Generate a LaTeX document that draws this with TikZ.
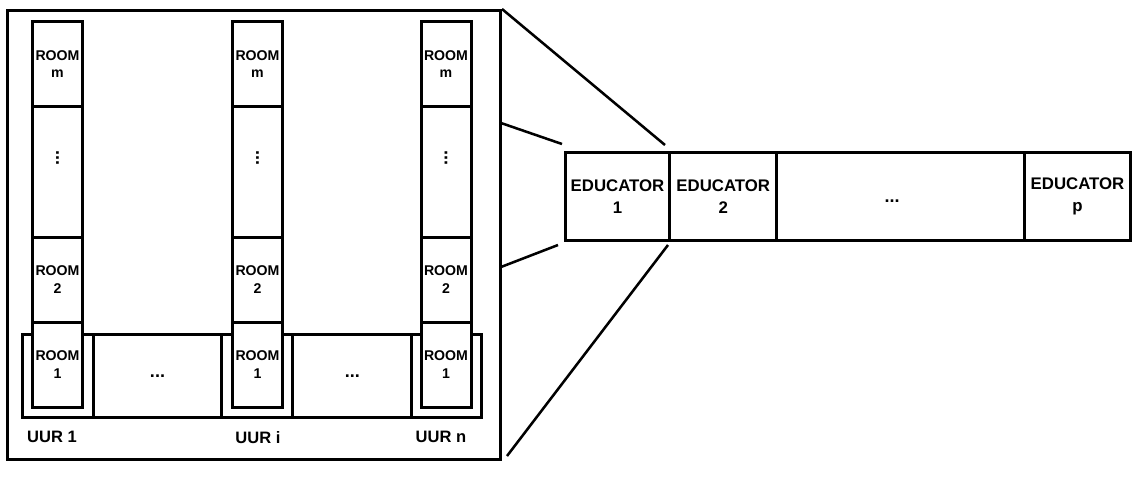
\documentclass[tikz,border=0pt]{standalone}
\usepackage{fontspec}
\setmainfont{Liberation Sans}
\begin{document}
\begin{tikzpicture}[x=0.75pt,y=-0.75pt,line width=2.25pt,
        box/.style={draw,fill=white,inner sep=0pt,align=center},
        roombox/.style={box,minimum width=37.5pt,font=\bfseries\fontsize{10.6}{13}\selectfont},
        edubox/.style={box,minimum height=66pt,font=\bfseries\fontsize{12.6}{16.5}\selectfont},
        uurbox/.style={box,minimum height=62.25pt},
        dots/.style={inner sep=0pt,font=\bfseries\fontsize{13.5}{14}\selectfont},
        uurlabel/.style={inner sep=0pt,font=\bfseries\fontsize{12.4}{14}\selectfont},
        link/.style={line width=1.9pt}]
            \useasboundingbox (0,0) rectangle (1140,476);
            \node[draw,inner sep=0pt,minimum width=369.4pt,minimum height=337.1pt] (frame) at (254.25,235.25) {};
            \node[uurbox,minimum width=53.25pt] (u1) at (58,376) {};
            \node[uurbox,minimum width=96pt] (g1) at (157.5,376) {};
            \node[uurbox,minimum width=53.6pt] (ui) at (257.25,376) {};
            \node[uurbox,minimum width=88.9pt] (g2) at (352.25,376) {};
            \node[uurbox,minimum width=52.5pt] (un) at (446.5,376) {};
            \node[dots] at (g1) {...};
            \node[dots] at (g2) {...};
            \foreach \c/\cx in {a/57.5,b/257.5,c/446}{
                \node[roombox,minimum height=63.75pt] (\c-m) at (\cx,64) {ROOM\\m};
                \node[roombox,minimum height=97.9pt] (\c-d) at (\cx,171.75) {};
                \node[roombox,minimum height=63.75pt] (\c-2) at (\cx,279.5) {ROOM\\2};
                \node[roombox,minimum height=63.75pt] (\c-1) at (\cx,364.5) {ROOM\\1};
                \node[dots,rotate=90] (\c-v) at (\cx,158) {...};
            }
            \node[uurlabel] (l1) at (52,437) {UUR 1};
            \node[uurlabel] (li) at (258,438) {UUR i};
            \node[uurlabel] (ln) at (441,437) {UUR n};
            \node[edubox,minimum width=78.75pt] (e1) at (617.5,196.5) {EDUCATOR\\1};
            \node[edubox,minimum width=79.9pt] (e2) at (723.25,196.5) {EDUCATOR\\2};
            \node[edubox,minimum width=186pt] (ed) at (900.5,196.5) {};
            \node[dots] at (892,201) {...};
            \node[edubox,minimum width=79.5pt] (ep) at (1077.5,196.5) {EDUCATOR\\p};
            \coordinate (t1) at (665,145);
            \coordinate (f2) at (501,123);
            \coordinate (t2) at (562,144);
            \coordinate (f3) at (501,267);
            \coordinate (t3) at (558,245);
            \coordinate (t4) at (668,245);
            \coordinate (f4) at (507,456);
            \draw[link] (frame.north east) -- (t1);
            \draw[link] (f2) -- (t2);
            \draw[link] (f3) -- (t3);
            \draw[link] (t4) -- (f4);
        \end{tikzpicture}
\end{document}
